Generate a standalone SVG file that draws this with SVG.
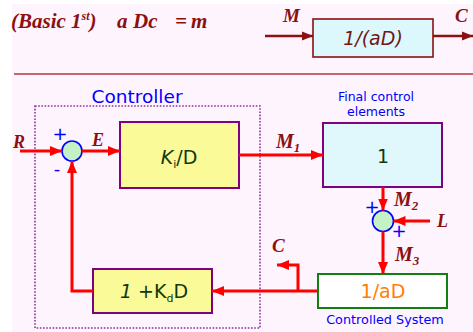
<svg xmlns="http://www.w3.org/2000/svg" width="473" height="332" viewBox="0 0 473 332">
<style>
.ser{font-family:"Liberation Serif","Times New Roman",serif;font-weight:bold;font-style:italic;fill:#8B1010}
.sans{font-family:"DejaVu Sans","Liberation Sans",sans-serif}
.blue{fill:#0000FF}
.red{stroke:#FF0000;stroke-width:3;fill:none}
.dred{stroke:#8B1010;stroke-width:2.5;fill:none}
.blk{stroke:#800080;stroke-width:2}
.sum{fill:#C4F2C4;stroke:#0000FF;stroke-width:1.6}
.plus{font-family:"DejaVu Sans",sans-serif;fill:#0000FF;font-size:18px}
.btxt{font-family:"DejaVu Sans","Liberation Sans",sans-serif;fill:#103810;font-size:19px}
</style>
<defs>
<marker id="ar" viewBox="0 0 12 10" refX="12" refY="5" markerWidth="12" markerHeight="10" markerUnits="userSpaceOnUse" orient="auto"><path d="M0,0 L12,5 L0,10 Z" fill="#FF0000"/></marker>
<marker id="ad" viewBox="0 0 12 10" refX="12" refY="5" markerWidth="11" markerHeight="10" markerUnits="userSpaceOnUse" orient="auto"><path d="M0,0 L12,5 L0,10 Z" fill="#8B1010"/></marker>
</defs>
<rect x="0" y="0" width="473" height="332" fill="#FFFFFF"/>
<rect x="12" y="4" width="461" height="328" fill="#FDF4FD"/>
<g id="title">
<text class="ser" x="11" y="28" font-size="21">(Basic 1<tspan font-size="12" dy="-8">st</tspan><tspan dy="8">)</tspan></text>
<text class="ser" x="117" y="28" font-size="21">a</text>
<text class="ser" x="133" y="28" font-size="21">Dc</text>
<text class="ser" x="175" y="28" font-size="21">=</text>
<text class="ser" x="191" y="28" font-size="21">m</text>
</g>
<line x1="14" y1="74" x2="473" y2="74" stroke="#B03A3A" stroke-width="1.5"/>
<g id="top-block">
<rect x="313" y="19" width="120" height="38" fill="#DDF8FC" stroke="#8B1010" stroke-width="1.6"/>
<text class="sans" x="373" y="45" font-size="19" font-style="italic" text-anchor="middle" fill="#701818">1/(aD)</text>
</g>
<g id="controller">
<text class="sans blue" x="137" y="103" font-size="18.5" text-anchor="middle">Controller</text>
<rect x="35" y="106" width="225" height="222" fill="none" stroke="#9030A0" stroke-width="1.6" stroke-dasharray="1.6,1.6"/>
</g>
<g id="sum1">
<circle class="sum" cx="72" cy="151" r="10"/>
<text class="plus" x="60" y="140" text-anchor="middle">+</text>
<text class="plus" x="57" y="175" text-anchor="middle">-</text>
</g>
<g id="ki">
<rect class="blk" x="120" y="122" width="119" height="66" fill="#FAFA98"/>
<text class="btxt" x="179" y="164" text-anchor="middle"><tspan font-style="italic">K</tspan><tspan font-size="11" dy="4">i</tspan><tspan dy="-4">/D</tspan></text>
</g>
<g id="final">
<text class="sans blue" x="376" y="101" font-size="12.5" text-anchor="middle">Final control</text>
<text class="sans blue" x="376" y="116" font-size="12.5" text-anchor="middle">elements</text>
<rect class="blk" x="323" y="123" width="119" height="64" fill="#E0F8FC"/>
<text class="btxt" x="383" y="163" text-anchor="middle">1</text>
</g>
<g id="sum2">
<circle class="sum" cx="383" cy="221" r="10.5"/>
<text class="plus" x="372" y="213" text-anchor="middle">+</text>
<text class="plus" x="399" y="237" text-anchor="middle">+</text>
</g>
<g id="plant">
<rect x="318" y="274" width="129" height="34" fill="#FFFFFF" stroke="#108010" stroke-width="2"/>
<text class="sans" x="383" y="298" font-size="19" text-anchor="middle" fill="#FF8000">1/aD</text>
<text class="sans blue" x="385" y="324" font-size="12.8" text-anchor="middle">Controlled System</text>
</g>
<g id="kd">
<rect class="blk" x="93" y="269" width="119" height="44" fill="#FAFA98"/>
<text class="btxt" x="154" y="298" text-anchor="middle"><tspan font-style="italic">1</tspan> +K<tspan font-size="11" dy="4">d</tspan><tspan dy="-4">D</tspan></text>
</g>
<g id="connectors">
<line class="dred" x1="265" y1="36" x2="313" y2="36" marker-end="url(#ad)"/>
<line class="dred" x1="433" y1="36" x2="473" y2="36" marker-end="url(#ad)"/>
<line class="red" x1="20" y1="151" x2="62" y2="151" marker-end="url(#ar)"/>
<line class="red" x1="82" y1="151" x2="120" y2="151" marker-end="url(#ar)"/>
<line class="red" x1="239" y1="155" x2="323" y2="155" marker-end="url(#ar)"/>
<line class="red" x1="383" y1="187" x2="383" y2="210.5" marker-end="url(#ar)"/>
<line class="red" x1="430" y1="221" x2="393.5" y2="221" marker-end="url(#ar)"/>
<line class="red" x1="383" y1="231.5" x2="383" y2="274" marker-end="url(#ar)"/>
<line class="red" x1="318" y1="291" x2="212" y2="291" marker-end="url(#ar)"/>
<polyline class="red" points="298,291 298,265 277,265" marker-end="url(#ar)"/>
<polyline class="red" points="93,291 72,291 72,161" marker-end="url(#ar)"/>
</g>
<g id="labels">
<text class="ser" x="283" y="22" font-size="19">M</text>
<text class="ser" x="455" y="22" font-size="19">C</text>
<text class="ser" x="13" y="148" font-size="18">R</text>
<text class="ser" x="92" y="146" font-size="18">E</text>
<text class="ser" x="276" y="148" font-size="20">M<tspan font-size="13" dy="4">1</tspan></text>
<text class="ser" x="394" y="206" font-size="20">M<tspan font-size="13" dy="4">2</tspan></text>
<text class="ser" x="437" y="227" font-size="18">L</text>
<text class="ser" x="395" y="261" font-size="20">M<tspan font-size="13" dy="4">3</tspan></text>
<text class="ser" x="272" y="252" font-size="19">C</text>
</g>
</svg>
